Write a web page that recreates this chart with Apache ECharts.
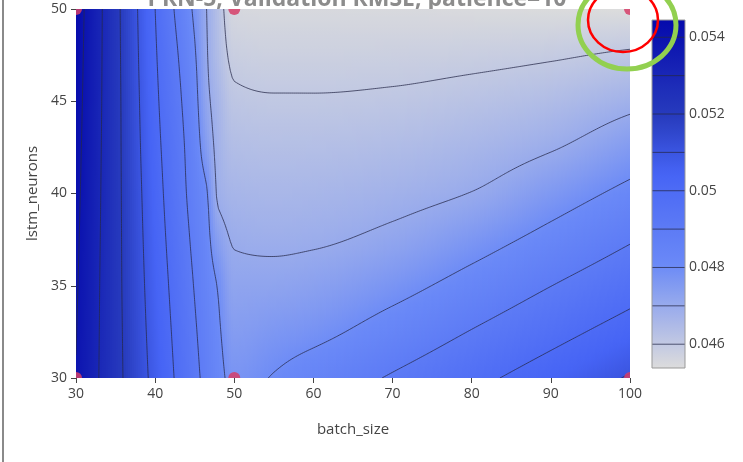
<!DOCTYPE html>
<html>
<head>
<meta charset="utf-8">
<script src="https://cdn.jsdelivr.net/npm/echarts@6/dist/echarts.min.js"></script>
<style>
html, body { margin: 0; padding: 0; background: #fff; }
#chart { width: 743px; height: 462px; }
</style>
</head>
<body>
<div id="chart"></div>
<script>
// Surface nodes: batch_size columns and lstm_neurons rows
const batchNodes = [30, 35, 40, 45, 46.5, 48, 50, 55, 60, 70, 80, 90, 100];
const neuronNodes = [30, 32.5, 35, 37.5, 40, 42.5, 45, 47.5, 50];
// Validation RMSE at each node, one array per lstm_neurons row
const rmseAt30 = [0.05397, 0.0523, 0.05073, 0.04921, 0.04875, 0.04828, 0.04775, 0.04805, 0.04841, 0.04909, 0.04976, 0.05043, 0.05107];
const rmseAt32 = [0.05403, 0.05229, 0.05064, 0.04909, 0.04861, 0.04811, 0.04748, 0.04764, 0.0478, 0.04837, 0.04904, 0.04971, 0.05036];
const rmseAt35 = [0.05409, 0.05228, 0.05055, 0.04895, 0.04844, 0.04793, 0.04721, 0.04723, 0.04733, 0.04773, 0.04832, 0.04899, 0.04964];
const rmseAt37 = [0.05415, 0.05228, 0.05046, 0.04879, 0.04826, 0.0474, 0.04694, 0.04688, 0.04692, 0.04717, 0.04765, 0.04827, 0.04893];
const rmseAt40 = [0.05421, 0.05228, 0.05037, 0.04863, 0.04807, 0.04688, 0.04666, 0.0466, 0.04663, 0.04677, 0.04702, 0.04759, 0.04822];
const rmseAt42 = [0.05427, 0.05228, 0.05027, 0.04845, 0.0475, 0.04677, 0.04639, 0.04633, 0.04634, 0.04643, 0.04662, 0.04694, 0.04751];
const rmseAt45 = [0.05433, 0.05228, 0.05018, 0.04827, 0.0472, 0.04665, 0.04612, 0.04605, 0.04605, 0.0461, 0.04623, 0.04643, 0.0468];
const rmseAt47 = [0.05439, 0.05227, 0.05009, 0.04808, 0.04707, 0.04642, 0.04584, 0.04577, 0.04577, 0.04579, 0.04584, 0.04593, 0.04609];
const rmseAt50 = [0.05445, 0.05226, 0.05, 0.04783, 0.047, 0.04632, 0.04555, 0.0455, 0.0455, 0.04548, 0.04545, 0.04542, 0.04538];
// Trials that were actually run
const trialBatch = [30, 30, 50, 50, 100, 100];
const trialNeurons = [30, 50, 30, 50, 30, 50];
// Contour levels and colour bar labels
const contourLevels = [0.046, 0.047, 0.048, 0.049, 0.05, 0.051, 0.052, 0.053, 0.054];
const colorbarTicks = [0.046, 0.048, 0.05, 0.052, 0.054];

const rows = [rmseAt30, rmseAt32, rmseAt35, rmseAt37, rmseAt40, rmseAt42, rmseAt45, rmseAt47, rmseAt50];
const allValues = rows.flat();
const zMin = Math.min.apply(null, allValues);
const zMax = Math.max.apply(null, allValues);

// blue scale: low RMSE grey, high RMSE navy
const scaleStops = [
  [0, [220, 220, 220]], [0.3, [106, 137, 247]], [0.42, [90, 120, 245]],
  [0.56, [70, 100, 245]], [0.72, [40, 60, 190]], [1, [5, 10, 172]]
];
function colorFor(z) {
  let t = (z - zMin) / (zMax - zMin);
  t = Math.max(0, Math.min(1, t));
  for (let k = 0; k < scaleStops.length - 1; k++) {
    const a = scaleStops[k], b = scaleStops[k + 1];
    if (t <= b[0]) {
      const f = (t - a[0]) / (b[0] - a[0]);
      const c = a[1].map((v, m) => Math.round(v + (b[1][m] - v) * f));
      return 'rgb(' + c.join(',') + ')';
    }
  }
  return 'rgb(5,10,172)';
}

// monotone cubic (PCHIP) interpolation
function pchipSlopes(xs, ys) {
  const n = xs.length, h = [], d = [];
  for (let k = 0; k < n - 1; k++) { h[k] = xs[k + 1] - xs[k]; d[k] = (ys[k + 1] - ys[k]) / h[k]; }
  const m = new Array(n);
  m[0] = d[0]; m[n - 1] = d[n - 2];
  for (let k = 1; k < n - 1; k++) {
    if (d[k - 1] * d[k] <= 0) m[k] = 0;
    else {
      const w1 = 2 * h[k] + h[k - 1], w2 = h[k] + 2 * h[k - 1];
      m[k] = (w1 + w2) / (w1 / d[k - 1] + w2 / d[k]);
    }
  }
  return m;
}
function pchipEval(xs, ys, m, x) {
  let k = 0;
  while (k < xs.length - 2 && x > xs[k + 1]) k++;
  const h = xs[k + 1] - xs[k], t = (x - xs[k]) / h;
  const t2 = t * t, t3 = t2 * t;
  return (2 * t3 - 3 * t2 + 1) * ys[k] + (t3 - 2 * t2 + t) * h * m[k] +
         (-2 * t3 + 3 * t2) * ys[k + 1] + (t3 - t2) * h * m[k + 1];
}

// fine sampling of the surface
const bMin = 30, bMax = 100, nMin = 30, nMax = 50;
const NX = 281, NY = 161;
const db = (bMax - bMin) / (NX - 1), dn = (nMax - nMin) / (NY - 1);
const rowSlopes = rows.map(r => pchipSlopes(batchNodes, r));
const Z = [];
for (let j = 0; j < NY; j++) Z.push(new Array(NX));
for (let i = 0; i < NX; i++) {
  const b = bMin + i * db;
  const col = rows.map((r, k) => pchipEval(batchNodes, r, rowSlopes[k], b));
  const cm = pchipSlopes(neuronNodes, col);
  for (let j = 0; j < NY; j++) Z[j][i] = pchipEval(neuronNodes, col, cm, nMin + j * dn);
}

// marching squares, then chain the pieces into polylines
function contourLines(level) {
  const segs = [];
  const hEdge = (i, j) => {
    const a = Z[j][i], b = Z[j][i + 1];
    if ((a < level) === (b < level)) return null;
    const t = (level - a) / (b - a);
    return [bMin + (i + t) * db, nMin + j * dn];
  };
  const vEdge = (i, j) => {
    const a = Z[j][i], b = Z[j + 1][i];
    if ((a < level) === (b < level)) return null;
    const t = (level - a) / (b - a);
    return [bMin + i * db, nMin + (j + t) * dn];
  };
  for (let j = 0; j < NY - 1; j++) {
    for (let i = 0; i < NX - 1; i++) {
      const e = [hEdge(i, j), vEdge(i + 1, j), hEdge(i, j + 1), vEdge(i, j)];
      const pts = e.filter(p => p);
      if (pts.length === 2) {
        segs.push([pts[0], pts[1]]);
      } else if (pts.length === 4) {
        const c = (Z[j][i] + Z[j][i + 1] + Z[j + 1][i] + Z[j + 1][i + 1]) / 4;
        if ((c < level) === (Z[j][i] < level)) {
          segs.push([e[0], e[1]]); segs.push([e[2], e[3]]);
        } else {
          segs.push([e[0], e[3]]); segs.push([e[1], e[2]]);
        }
      }
    }
  }
  const key = p => p[0].toFixed(6) + ',' + p[1].toFixed(6);
  const ends = new Map();
  segs.forEach((s, idx) => {
    [key(s[0]), key(s[1])].forEach(k => {
      if (!ends.has(k)) ends.set(k, []);
      ends.get(k).push(idx);
    });
  });
  const used = new Array(segs.length).fill(false);
  const lines = [];
  for (let s = 0; s < segs.length; s++) {
    if (used[s]) continue;
    used[s] = true;
    const line = [segs[s][0], segs[s][1]];
    for (const forward of [true, false]) {
      for (;;) {
        const end = forward ? line[line.length - 1] : line[0];
        const k = key(end);
        const next = (ends.get(k) || []).find(x => !used[x]);
        if (next === undefined) break;
        used[next] = true;
        const seg = segs[next];
        const other = key(seg[0]) === k ? seg[1] : seg[0];
        if (forward) line.push(other); else line.unshift(other);
      }
    }
    lines.push(line);
  }
  return lines;
}
const contourPaths = contourLevels.map(contourLines);

const lineColor = 'rgba(38,40,72,0.75)';
const font = '"Open Sans", "DejaVu Sans", sans-serif';

// one heat column per fine batch_size sample
const columnData = [];
for (let i = 0; i < NX; i++) columnData.push([bMin + i * db, nMin, i]);
const stopStep = 4;

const chart = echarts.init(document.getElementById('chart'));
const option = {
  animation: false,
  grid: [
    { left: 76, top: 9, width: 554, height: 369 },
    { left: 652, top: 20, width: 33, height: 348 }
  ],
  xAxis: [
    {
      type: 'value', gridIndex: 0, min: 30, max: 100, interval: 10,
      axisLine: { show: false },
      axisTick: { show: true, length: 5, lineStyle: { color: '#444' } },
      axisLabel: { color: '#444', fontSize: 14, fontFamily: font, margin: 9 },
      splitLine: { show: false },
      name: 'batch_size', nameLocation: 'middle', nameGap: 44,
      nameTextStyle: { color: '#444', fontSize: 15, fontFamily: font }
    },
    { type: 'value', gridIndex: 1, min: 0, max: 1, show: false }
  ],
  yAxis: [
    {
      type: 'value', gridIndex: 0, min: 30, max: 50, interval: 5,
      axisLine: { show: false },
      axisTick: { show: true, length: 5, lineStyle: { color: '#444' } },
      axisLabel: { color: '#444', fontSize: 14, fontFamily: font, margin: 9 },
      splitLine: { show: false },
      name: 'lstm_neurons', nameLocation: 'middle', nameGap: 36,
      nameTextStyle: { color: '#444', fontSize: 15, fontFamily: font }
    },
    { type: 'value', gridIndex: 1, min: zMin, max: zMax, show: false }
  ],
  series: [
    {
      // smooth colour field
      type: 'custom', xAxisIndex: 0, yAxisIndex: 0, clip: true, silent: true,
      data: columnData,
      renderItem: function (params, api) {
        const b = api.value(0);
        const i = api.value(2);
        const p0 = api.coord([Math.max(bMin, b - db / 2), nMax]);
        const p1 = api.coord([Math.min(bMax, b + db / 2), nMin]);
        const stops = [];
        for (let j = NY - 1; j >= 0; j -= stopStep) {
          stops.push({ offset: (NY - 1 - j) / (NY - 1), color: colorFor(Z[j][i]) });
        }
        return {
          type: 'rect',
          shape: { x: p0[0] - 0.5, y: p0[1], width: p1[0] - p0[0] + 1, height: p1[1] - p0[1] },
          style: { fill: new echarts.graphic.LinearGradient(0, 0, 0, 1, stops) }
        };
      }
    },
    {
      // contour lines
      type: 'custom', xAxisIndex: 0, yAxisIndex: 0, clip: true, silent: true,
      data: contourLevels.map((lv, k) => [bMin, nMin, k]),
      renderItem: function (params, api) {
        const lines = contourPaths[params.dataIndex];
        return {
          type: 'group',
          children: lines.map(l => ({
            type: 'polyline',
            shape: { points: l.map(p => api.coord(p)) },
            style: { stroke: lineColor, lineWidth: 1, fill: null }
          }))
        };
      }
    },
    {
      // trial markers
      type: 'custom', xAxisIndex: 0, yAxisIndex: 0, clip: true, silent: true,
      data: trialBatch.map((b, k) => [b, trialNeurons[k]]),
      renderItem: function (params, api) {
        const p = api.coord([api.value(0), api.value(1)]);
        return {
          type: 'circle',
          shape: { cx: p[0], cy: p[1], r: 6 },
          style: { fill: 'rgba(214,62,104,0.85)' }
        };
      }
    },
    {
      // colour bar
      type: 'custom', xAxisIndex: 1, yAxisIndex: 1, clip: false, silent: true,
      data: [[0, zMin]],
      renderItem: function (params, api) {
        const tl = api.coord([0, zMax]);
        const br = api.coord([1, zMin]);
        const stops = [];
        for (let k = 0; k <= 40; k++) {
          const f = k / 40;
          stops.push({ offset: f, color: colorFor(zMax - f * (zMax - zMin)) });
        }
        const children = [{
          type: 'rect',
          shape: { x: tl[0], y: tl[1], width: br[0] - tl[0], height: br[1] - tl[1] },
          style: { fill: new echarts.graphic.LinearGradient(0, 0, 0, 1, stops) }
        }];
        contourLevels.forEach(lv => {
          const a = api.coord([0, lv]), b = api.coord([1, lv]);
          children.push({
            type: 'line',
            shape: { x1: a[0], y1: a[1], x2: b[0], y2: b[1] },
            style: { stroke: lineColor, lineWidth: 1 }
          });
        });
        children.push({
          type: 'rect',
          shape: { x: tl[0], y: tl[1], width: br[0] - tl[0], height: br[1] - tl[1] },
          style: { fill: null, stroke: '#999', lineWidth: 1 }
        });
        colorbarTicks.forEach(v => {
          const p = api.coord([1, v]);
          children.push({
            type: 'text',
            x: p[0] + 4, y: p[1],
            style: {
              text: String(+v.toFixed(3)), fill: '#444', fontSize: 14, fontFamily: font,
              align: 'left', verticalAlign: 'middle'
            }
          });
        });
        return { type: 'group', children: children };
      }
    }
  ],
  graphic: [
    { type: 'rect', left: 2, top: 0, shape: { width: 2, height: 462 }, style: { fill: '#8a8a8a' }, silent: true },
    {
      type: 'text', x: 357, y: -0.5, silent: true,
      style: {
        text: 'PRN-5, Validation RMSE, patience=10', fill: '#8c8c8c',
        font: 'bold 23px "Open Sans", sans-serif', align: 'center', verticalAlign: 'middle'
      }
    },
    {
      type: 'ellipse', silent: true, z: 100,
      shape: { cx: 627, cy: 25, rx: 49, ry: 44 },
      style: { fill: null, stroke: '#92d050', lineWidth: 5 }
    },
    {
      type: 'ellipse', silent: true, z: 101,
      shape: { cx: 623, cy: 20, rx: 35, ry: 32 },
      style: { fill: null, stroke: '#ff0000', lineWidth: 2.5 }
    }
  ]
};
chart.setOption(option);
</script>
</body>
</html>
